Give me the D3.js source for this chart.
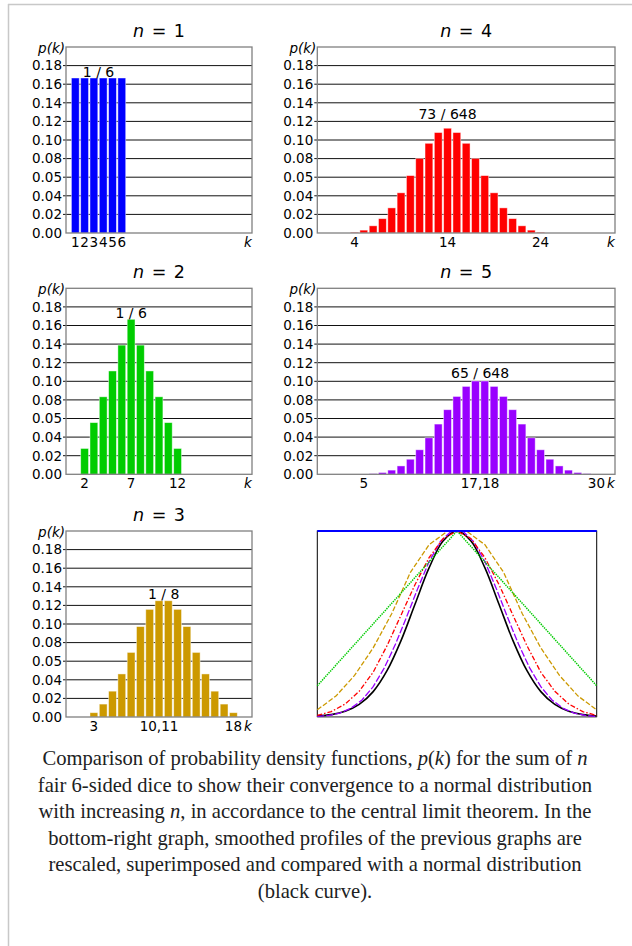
<!DOCTYPE html>
<html>
<head>
<meta charset="utf-8">
<script src="https://cdn.jsdelivr.net/npm/d3@7"></script>
<style>
  body { margin: 0; background: #fff; }
  svg { display: block; }
</style>
</head>
<body>
<script>
// sums of n fair dice: counts of each total, divided by 6^n
var counts1 = [1, 1, 1, 1, 1, 1];
var counts2 = [1, 2, 3, 4, 5, 6, 5, 4, 3, 2, 1];
var counts3 = [1, 3, 6, 10, 15, 21, 25, 27, 27, 25, 21, 15, 10, 6, 3, 1];
var counts4 = [1, 4, 10, 20, 35, 56, 80, 104, 125, 140, 146, 140, 125, 104, 80, 56, 35, 20, 10, 4, 1];
var counts5 = [1, 5, 15, 35, 70, 126, 205, 305, 420, 540, 651, 735, 780, 780, 735, 651, 540, 420, 305, 205, 126, 70, 35, 15, 5, 1];
var denominators = [6, 36, 216, 1296, 7776];
var firstK = [1, 2, 3, 4, 5];

var yTicks = [0, 0.02, 0.04, 0.06, 0.08, 0.10, 0.12, 0.14, 0.16, 0.18];
var yTickLabels = ["0.00", "0.02", "0.04", "0.05", "0.08", "0.10", "0.12", "0.14", "0.16", "0.18"];

var xTicks = [[1, 2, 3, 4, 5, 6], [2, 7, 12], [3, 10, 18], [4, 14, 24], [5, 17.5, 30]];
var xTickLabels = [["1", "2", "3", "4", "5", "6"], ["2", "7", "12"], ["3", "10,11", "18"], ["4", "14", "24"], ["5", "17,18", "30"]];

var peakLabels = ["1 / 6", "1 / 6", "1 / 8", "73 / 648", "65 / 648"];
var peakLabelK = [3.5, 7, 10.5, 14, 17.5];
var peakLabelP = [0.168, 0.168, 0.127, 0.123, 0.104];

// normal curve, x from 0 to 1 in steps of 0.05
var normalCurve = [0.004, 0.011, 0.029, 0.066, 0.135, 0.249, 0.411, 0.607, 0.801, 0.946, 1,
                   0.946, 0.801, 0.607, 0.411, 0.249, 0.135, 0.066, 0.029, 0.011, 0.004];

var colors = ["#0000ff", "#00cc00", "#cc9900", "#ff0000", "#9900ff"];
var allCounts = [counts1, counts2, counts3, counts4, counts5];

var font = "DejaVu Sans, sans-serif";

var svg = d3.select("body").append("svg")
    .attr("width", 632)
    .attr("height", 946);

// thin page frame (top and left)
svg.append("line").attr("x1", 8).attr("x2", 632).attr("y1", 4.5).attr("y2", 4.5)
    .attr("stroke", "#c8c8c8").attr("stroke-width", 1.5);
svg.append("line").attr("x1", 8.5).attr("x2", 8.5).attr("y1", 4).attr("y2", 946)
    .attr("stroke", "#c8c8c8").attr("stroke-width", 1.5);

var plotH = 186;
var panels = [
    {left: 66, top: 47, width: 186, xMax: 20},
    {left: 66, top: 288.3, width: 186, xMax: 20},
    {left: 66, top: 531, width: 186, xMax: 20},
    {left: 317.3, top: 47, width: 297.7, xMax: 32},
    {left: 317.3, top: 288.3, width: 297.7, xMax: 32}
];

panels.forEach(function(p, i) {
    var g = svg.append("g");
    var x = d3.scaleLinear().domain([0, p.xMax]).range([p.left, p.left + p.width]);
    var y = d3.scaleLinear().domain([0, 0.2]).range([p.top + plotH, p.top]);

    var data = allCounts[i].map(function(c, j) {
        return {k: firstK[i] + j, p: c / denominators[i]};
    });

    // grid lines
    g.selectAll(".grid")
        .data(yTicks.slice(1))
        .enter().append("line")
        .attr("x1", p.left - 3)
        .attr("x2", p.left + p.width)
        .attr("y1", d => y(d))
        .attr("y2", d => y(d))
        .attr("stroke", "#111")
        .attr("stroke-width", 1);

    // bars
    g.selectAll(".bar")
        .data(data)
        .enter().append("rect")
        .attr("x", d => x(d.k - 0.42))
        .attr("width", x(0.84) - x(0))
        .attr("y", d => y(d.p))
        .attr("height", d => y(0) - y(d.p))
        .attr("fill", colors[i])
        .attr("stroke", "rgba(255,255,255,0.55)")
        .attr("stroke-width", 0.8);

    // frame
    g.append("rect")
        .attr("x", p.left)
        .attr("y", p.top)
        .attr("width", p.width)
        .attr("height", plotH)
        .attr("fill", "none")
        .attr("stroke", "#808080")
        .attr("stroke-width", 1.3);

    // y tick labels
    g.selectAll(".ylab")
        .data(yTicks)
        .enter().append("text")
        .attr("x", p.left - 4)
        .attr("y", d => y(d) + 4.8)
        .attr("text-anchor", "end")
        .style("font-family", font)
        .style("font-size", "13.5px")
        .text((d, j) => yTickLabels[j]);

    // x tick labels
    g.selectAll(".xlab")
        .data(xTicks[i])
        .enter().append("text")
        .attr("x", d => x(d))
        .attr("y", p.top + plotH + 14)
        .attr("text-anchor", "middle")
        .style("font-family", font)
        .style("font-size", "13.5px")
        .text((d, j) => xTickLabels[i][j]);

    // axis names
    g.append("text")
        .attr("x", p.left + p.width - 4)
        .attr("y", p.top + plotH + 14)
        .attr("text-anchor", "middle")
        .style("font-family", font)
        .style("font-size", "13.5px")
        .style("font-style", "italic")
        .text("k");

    g.append("text")
        .attr("x", p.left - 1)
        .attr("y", p.top + 6)
        .attr("text-anchor", "end")
        .style("font-family", font)
        .style("font-size", "13.5px")
        .style("font-style", "italic")
        .text("p(k)");

    // title
    var title = g.append("text")
        .attr("x", p.left + p.width / 2)
        .attr("y", p.top - 10.5)
        .attr("text-anchor", "middle")
        .style("font-family", font)
        .style("font-size", "17.5px")
        .style("word-spacing", "2px");
    title.append("tspan").style("font-style", "italic").text("n");
    title.append("tspan").text(" = " + (i + 1));

    // peak label
    g.append("text")
        .attr("x", x(peakLabelK[i]))
        .attr("y", y(peakLabelP[i]))
        .attr("text-anchor", "middle")
        .style("font-family", font)
        .style("font-size", "14px")
        .text(peakLabels[i]);
});

// comparison of rescaled profiles
var cmp = {left: 317.3, top: 531, width: 279.4, height: 185.7};
var cx = d3.scaleLinear().domain([0, 1]).range([cmp.left, cmp.left + cmp.width]);
var cy = d3.scaleLinear().domain([0, 1]).range([cmp.top + cmp.height, cmp.top]);
var cg = svg.append("g");

cg.append("rect")
    .attr("x", cmp.left).attr("y", cmp.top)
    .attr("width", cmp.width).attr("height", cmp.height)
    .attr("fill", "none").attr("stroke", "#000").attr("stroke-width", 1);
cg.append("line")
    .attr("x1", cmp.left).attr("x2", cmp.left + cmp.width)
    .attr("y1", cmp.top + cmp.height).attr("y2", cmp.top + cmp.height)
    .attr("stroke", "#808080").attr("stroke-width", 1.6);

var line = d3.line()
    .x(d => cx(d[0]))
    .y(d => cy(d[1]));

var normalPts = normalCurve.map((v, j) => [j / (normalCurve.length - 1), v]);
cg.append("path")
    .attr("d", line.curve(d3.curveCatmullRom)(normalPts))
    .attr("fill", "none")
    .attr("stroke", "#000")
    .attr("stroke-width", 1.6);

var dashes = ["none", "1.4,1", "5,2", "5,2,1.5,2", "7,2"];
var widths = [2.2, 1.5, 1.3, 1.3, 1.3];

[4, 3, 2, 1, 0].forEach(function(i) {
    var c = allCounts[i];
    var top = d3.max(c);
    var pts = c.map((v, j) => [j / (c.length - 1), v / top]);
    cg.append("path")
        .attr("d", line.curve(d3.curveLinear)(pts))
        .attr("fill", "none")
        .attr("stroke", colors[i])
        .attr("stroke-width", widths[i])
        .attr("stroke-dasharray", dashes[i]);
});

// caption
var capLines = [
    [["Comparison of probability density functions, ", 0], ["p", 1], ["(", 0], ["k", 1], [") for the sum of ", 0], ["n", 1]],
    [["fair 6-sided dice to show their convergence to a normal distribution", 0]],
    [["with increasing ", 0], ["n", 1], [", in accordance to the central limit theorem. In the", 0]],
    [["bottom-right graph, smoothed profiles of the previous graphs are", 0]],
    [["rescaled, superimposed and compared with a normal distribution", 0]],
    [["(black curve).", 0]]
];

capLines.forEach(function(parts, li) {
    var t = svg.append("text")
        .attr("x", 315)
        .attr("y", 765 + li * 26.6)
        .attr("text-anchor", "middle")
        .style("font-family", "Liberation Serif, Times New Roman, serif")
        .style("font-size", "20.6px")
        .attr("fill", "#202122");
    parts.forEach(function(pt) {
        t.append("tspan")
            .style("font-style", pt[1] ? "italic" : "normal")
            .text(pt[0]);
    });
});
</script>
</body>
</html>
